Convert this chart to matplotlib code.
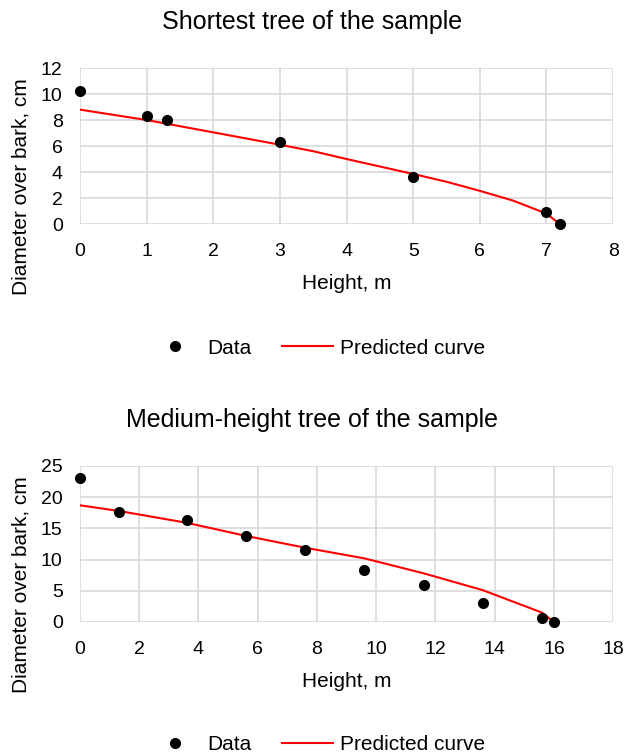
import matplotlib.pyplot as plt

plt.rcParams['font.family'] = ['Liberation Sans', 'DejaVu Sans']

# Arbre le plus court
h_court = [0, 1, 1.3, 3, 5, 7, 7.2]
d_court = [10.2, 8.3, 8.0, 6.3, 3.65, 0.9, 0.0]
h_court_pred = [0, 1, 2, 3, 3.5, 4, 5, 5.5, 6, 6.5, 7, 7.2]
d_court_pred = [8.8, 8.0, 7.05, 6.1, 5.6, 5.0, 3.85, 3.25, 2.55, 1.8, 0.8, 0.0]

# Arbre de hauteur moyenne
h_moy = [0, 1.3, 3.6, 5.6, 7.6, 9.6, 11.6, 13.6, 15.6, 16]
d_moy = [23.0, 17.7, 16.4, 13.7, 11.5, 8.3, 6.0, 3.1, 0.7, 0.0]
h_moy_pred = [0, 1.3, 3.6, 5.6, 7.6, 9.6, 11.6, 13.6, 15.6, 16]
d_moy_pred = [18.7, 17.8, 15.9, 13.8, 11.9, 10.2, 7.8, 5.1, 1.5, 0.0]

fig = plt.figure(figsize=(6.25, 7.55), dpi=100)

panneaux = [
    ("Shortest tree of the sample", h_court, d_court, h_court_pred, d_court_pred,
     [0.128, 0.7033, 0.853, 0.2066], 8, 1, 12, 2, 0.539),
    ("Medium-height tree of the sample", h_moy, d_moy, h_moy_pred, d_moy_pred,
     [0.128, 0.1762, 0.853, 0.2066], 18, 2, 25, 5, 0.014),
]

for titre, hx, dy, hp, dp, pos, xmax, xstep, ymax, ystep, leg_y in panneaux:
    ax = fig.add_axes(pos)
    ax.plot(hx, dy, 'o', color='black', markersize=7, label='Data', zorder=3, clip_on=False)
    ax.plot(hp, dp, '-', color='#ff0000', linewidth=1.5, label='Predicted curve', zorder=2)
    ax.set_xlim(0, xmax)
    ax.set_ylim(0, ymax)
    ax.set_xticks(range(0, xmax + 1, xstep))
    ax.set_yticks(range(0, ymax + 1, ystep))
    ax.grid(True, color='#d9d9d9', linewidth=1.2)
    ax.set_axisbelow(True)
    for s in ax.spines.values():
        s.set_visible(False)
    ax.tick_params(length=0, labelsize=14, colors='black')
    ax.tick_params(axis='x', pad=13.5)
    ax.tick_params(axis='y', pad=12.5)
    ax.set_xlabel("Height, m", fontsize=15, labelpad=10)
    ax.set_ylabel("Diameter over bark, cm", fontsize=15)
    ax.yaxis.set_label_coords(-0.093, 0.24)
    # titre centré sur la figure, pas sur les axes
    ax.set_title(titre, fontsize=18, pad=28, x=0.436)
    fig.legend(*ax.get_legend_handles_labels(), loc='center', ncol=2,
               bbox_to_anchor=(0.508, leg_y), frameon=False, fontsize=15,
               handlelength=2.45, columnspacing=1.45, handletextpad=0.33)

plt.savefig('out.png', dpi=100)
plt.close()
